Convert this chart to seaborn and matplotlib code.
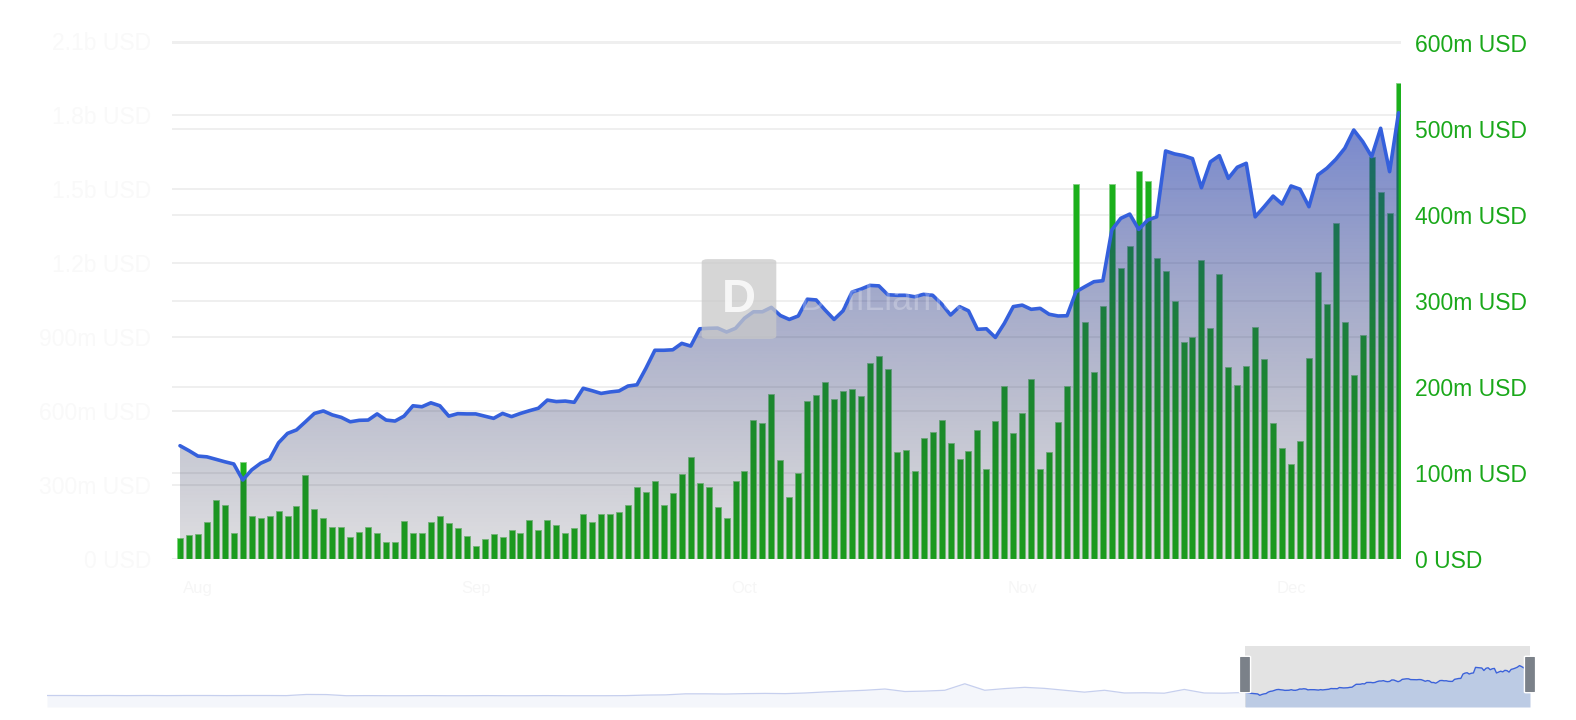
import matplotlib
matplotlib.use("Agg")
import matplotlib.pyplot as plt
from matplotlib.patches import FancyBboxPatch
import seaborn as sns
import numpy as np
import pandas as pd

sns.set_theme(style="white")
plt.rcParams['font.family'] = ['Liberation Sans', 'DejaVu Sans']

# ---- data (millions USD), daily from 30 Jul ----
start_date = "2023-07-30"

hacim = [23.7, 27.2, 29.1, 42.3, 68.3, 62.1, 29.5, 112, 49.3, 47, 50, 55.5, 49.3, 61, 97, 57.4,
         47, 36.9, 36.9, 25.6, 31, 36.5, 29.9,
         19.8, 19.8, 43.8, 30.2, 30.2, 43, 49.7, 41.5, 35.3, 26.4, 14.8, 22.5, 28.7, 25.2, 33,
         29.5, 45, 33, 44.6, 38.8, 29.5, 36,
         51.6, 43, 51.6, 51.6, 54, 62, 83.7, 77.6, 90, 62, 76.7, 98, 118, 87.7, 83.7, 59.8, 47.3,
         90, 102.3, 161, 158, 191, 114.8,
         71.7, 100, 183, 190.7, 205.5, 185.3, 195, 197, 188.8, 227.6, 235.7, 220.6, 123.7, 126,
         102.3, 140.3, 147, 161.6, 135, 116, 125, 149.3, 104,
         160, 200.8, 146, 169.4, 209.3, 104.3, 124, 158.6, 200.8, 436, 274.9, 217, 293.5, 435.3,
         337.7, 363.6, 450.8, 439.2, 349.3, 334.5, 299.7, 252, 257.4,
         347.3, 268.6, 330.7, 223.3, 202.3, 223.7, 269.8, 231.9, 158.1, 128.4, 110.1, 137.2, 233,
         333.7, 295.8, 390, 275.6, 213.3, 260.5, 466.7, 426, 401.6, 553.5]

tvl = [458, 438, 416, 413, 403, 393, 384, 319, 360, 387, 403, 470, 508, 522, 555, 589, 599, 583,
       573, 555, 561, 562, 587,
       562, 558, 578, 620, 616, 632, 620, 578, 588, 587, 587, 578, 569, 589, 576, 589, 600, 610,
       643, 637, 639, 634,
       691, 681, 670, 676, 680, 700, 705, 772, 845, 845, 847, 873, 862, 932, 934, 935, 919, 934,
       975, 1001, 1001, 1019, 986,
       970, 984, 1052, 1049, 1008, 970, 1005, 1081, 1093, 1108, 1106, 1070, 1068, 1068, 1062,
       1072, 1068, 1033, 988, 1022, 1005, 930, 932,
       897, 954, 1022, 1028, 1011, 1015, 991, 984, 985, 1082, 1103, 1123, 1127, 1333, 1380, 1397,
       1335, 1373, 1386, 1653, 1641, 1634, 1622,
       1504, 1609, 1634, 1542, 1587, 1603, 1386, 1427, 1470, 1438, 1511, 1498, 1427, 1556, 1583,
       1619, 1664, 1738, 1691, 1630, 1745, 1569, 1808]

# navigator: older history (rough reading of the faint overview line)
gecmis = [310, 310, 305, 310, 305, 310, 305, 310, 310, 305, 310, 310, 305, 360, 355,
          300, 305, 300, 300, 305, 300, 300, 305, 300, 300, 305, 300, 300, 300, 305,
          330, 340, 390, 390, 380, 400, 410, 400, 430, 480, 520, 560, 620, 500, 520, 560,
          870, 560, 640, 700, 650, 560, 470, 560, 430, 440, 420, 600, 430, 420]

sag_ticks = [0, 100, 200, 300, 400, 500, 600]
sag_labels = ["0 USD", "100m USD", "200m USD", "300m USD", "400m USD", "500m USD", "600m USD"]
sol_ticks = [0, 300, 600, 900, 1200, 1500, 1800, 2100]
sol_labels = ["0 USD", "300m USD", "600m USD", "900m USD", "1.2b USD", "1.5b USD", "1.8b USD",
              "2.1b USD"]

W, H = 1576, 720
def fx(px): return px / W
def fy(py): return 1 - py / H

gunler = np.arange(len(tvl))
tarihler = pd.date_range(start_date, periods=len(tvl))
ay_idx = [i for i, d in enumerate(tarihler) if d.day == 1]
ay_lab = [tarihler[i].strftime("%b") for i in ay_idx]

fig = plt.figure(figsize=(W / 100, H / 100), dpi=100)
fig.patch.set_facecolor("white")

y0, y1 = 558.7, 40.7
ax = fig.add_axes([fx(172), fy(y0), fx(1401) - fx(172), (y0 - y1) / H])
step = 8.96
xlim = (-(180 - 172) / step, 136 + (1401 - (180 + 136 * step)) / step)
sag_max = 600 * (y0 - y1) / 516.0

# grid lines (both axes scales) drawn under everything
for v in sag_ticks:
    ax.axhline(v, color="#ececec", lw=1.2, zorder=0)
for v in sol_ticks:
    ax.axhline(v * sag_max / 2100, color="#ececec", lw=1.2, zorder=0)

sns.barplot(x=gunler, y=hacim, native_scale=True, width=0.67, color="#1bb01b", saturation=1,
            edgecolor="#84cf84", linewidth=0.6, errorbar=None, ax=ax, zorder=2)
ax.set_xlim(*xlim)
ax.set_ylim(0, sag_max)
ax.set_xticks(ay_idx)
ax.set_xticklabels(ay_lab)
ax.tick_params(axis="x", length=0, pad=16, labelcolor="#f6f6f6", labelsize=12)
ax.set_xlabel("")
ax.set_ylabel("")
for s in ax.spines.values():
    s.set_visible(False)

# TVL area on twin axis
axl = ax.twinx()
poly = axl.fill_between(gunler, tvl, 0, facecolor="none", edgecolor="none")
stops = np.array([[30, 30, 50, 0.14 * 255],
                  [30, 45, 125, 0.40 * 255],
                  [25, 60, 195, 0.68 * 255]]) / 255.0
t = np.linspace(0, 1, 256)
grad = np.zeros((256, 1, 4))
for c in range(4):
    grad[:, 0, c] = np.interp(t, [0, 0.5, 1], stops[:, c])
im = axl.imshow(grad, extent=[xlim[0], xlim[1], 0, 2100], aspect="auto", origin="lower",
                zorder=1, interpolation="bilinear")
im.set_clip_path(poly.get_paths()[0], axl.transData)
sns.lineplot(x=gunler, y=tvl, ax=axl, color="#3560dc", lw=2.6, zorder=3)
axl.set_xlim(*xlim)
axl.set_ylim(0, 2100)
axl.set_xlabel("")
axl.set_ylabel("")
for s in axl.spines.values():
    s.set_visible(False)

# tick sides (twinx moves the original axis to the left, so set them here)
ax.yaxis.tick_right()
ax.set_yticks(sag_ticks)
ax.set_yticklabels(sag_labels)
ax.tick_params(axis="y", length=0, pad=10, labelcolor="#1aa81a", labelsize=16.5)
axl.yaxis.tick_left()
axl.set_yticks(sol_ticks)
axl.set_yticklabels(sol_labels)
axl.tick_params(axis="y", length=0, pad=15, labelcolor="#f9f9f9", labelsize=16.5)

# watermark
fig.patches.append(FancyBboxPatch((fx(708), fy(336)), fx(62), (336 - 262) / H,
                                  boxstyle="round,pad=0.004", transform=fig.transFigure,
                                  facecolor="#c9c9c9", edgecolor="none", alpha=0.75, zorder=5))
fig.text(fx(739), fy(300), "D", ha="center", va="center", fontsize=34, fontweight="bold",
         color="white", alpha=0.8, zorder=6)
fig.text(fx(800), fy(300), "DefiLlama", ha="left", va="center", fontsize=26,
         color="white", alpha=0.25, zorder=6)

# navigator
nav = fig.add_axes([fx(47), fy(707), fx(1530) - fx(47), (707 - 646) / H])
nav.set_xlim(-572, 136)
nav.set_ylim(-239, 2674)
nav.axis("off")
gx = np.linspace(-572, -10, len(gecmis))
nav.fill_between(list(gx) + [0], gecmis + [tvl[0]], -239, color="#f4f6fb", lw=0, zorder=1)
nav.plot(list(gx) + [0], gecmis + [tvl[0]], color="#c6cfee", lw=0.9, zorder=2)
nav.axvspan(0, 136, color="#e3e3e3", lw=0, zorder=1)
nav.fill_between(gunler, tvl, -239, color="#bccbe4", lw=0, zorder=2)
nav.plot(gunler, tvl, color="#3b62da", lw=1.0, zorder=3)
for hx in (1245, 1530):
    fig.patches.append(FancyBboxPatch((fx(hx - 4), fy(692)), fx(8), (692 - 657) / H,
                                      boxstyle="round,pad=0.001", transform=fig.transFigure,
                                      facecolor="#7b8189", edgecolor="white", lw=1, zorder=7))

fig.savefig("out.png", dpi=100, facecolor="white")
